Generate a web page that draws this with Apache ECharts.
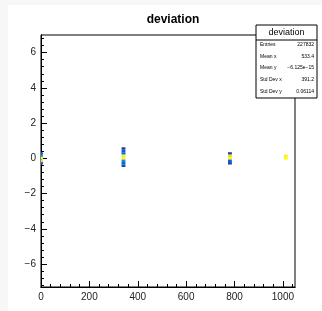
<!DOCTYPE html>
<html>
<head>
<meta charset="utf-8">
<script src="https://cdn.jsdelivr.net/npm/echarts@6/dist/echarts.min.js"></script>
<style>
  html, body { margin: 0; padding: 0; background: #f7f7f7; }
  #chart { position: absolute; left: 8px; top: 5px; width: 314px; height: 306px; background: #fff; }
</style>
</head>
<body>
<div id="chart"></div>
<script>
// histogram binning
const xBinWidth = 16
const yBinWidth = 0.14

// filled cells: low edge of x bin, low edge of y bin, entries
const cellX = [-8, -8, -8, -8, -8,
  333, 333, 333, 333, 333, 333, 333, 333,
  773, 773, 773, 773, 773,
  1004, 1004]
const cellY = [0.21, 0.07, -0.07, -0.21, -0.35,
  0.49, 0.35, 0.21, 0.07, -0.07, -0.21, -0.35, -0.49,
  0.21, 0.07, -0.07, -0.21, -0.35,
  0.07, -0.07]
const cellN = [3000, 12000, 30000, 28000, 3500,
  1200, 3500, 4000, 29000, 30000, 8000, 3500, 2000,
  1500, 27000, 30000, 4000, 1500,
  29000, 30000]

// axis ticks
const xTicks = [0, 200, 400, 600, 800, 1000]
const yTicks = [-6, -4, -2, 0, 2, 4, 6]
const xRange = [0, 1050]
const yRange = [-7.3, 7.0]

// stats box
const statNames = ['Entries', 'Mean x', 'Mean y', 'Std Dev x', 'Std Dev y']
const statValues = ['227832', '533.4', '\u22126.125e\u221215', '391.2', '0.06114']

function minorTicks(range, step) {
  const out = []
  const start = Math.ceil(range[0] / step)
  for (let i = start; i * step <= range[1] + 1e-9; i++) out.push(+(i * step).toFixed(4))
  return out
}

const bird = ['#352a87', '#0363e1', '#1485d4', '#06a7c6', '#38b99e', '#92bf73', '#d9ba56', '#fcce2e', '#f9fb0e']
const font = 'Liberation Sans, Arial, sans-serif'

const cells = cellX.map((x, i) => [x, cellY[i], cellN[i]])

function axisBase(range) {
  return {
    type: 'value', min: range[0], max: range[1],
    axisLine: { onZero: false, lineStyle: { color: '#000', width: 1 } },
    splitLine: { show: false }
  }
}

// stats box geometry (chart coords)
const bx = 248, by = 20, bw = 61, bh = 73
const statGraphics = [
  { type: 'rect', shape: { x: bx, y: by, width: bw, height: bh },
    style: { fill: '#fff', stroke: '#000', lineWidth: 1 }, z: 100 },
  { type: 'line', shape: { x1: bx, y1: by + 15, x2: bx + bw, y2: by + 15 },
    style: { stroke: '#000', lineWidth: 1 }, z: 101 },
  { type: 'text', x: bx + bw / 2, y: by + 8, z: 101,
    style: { text: 'deviation', font: '9px ' + font, fill: '#000', align: 'center', verticalAlign: 'middle' } }
]
statNames.forEach((n, i) => {
  const y = by + 19.5 + i * 11.7
  statGraphics.push({ type: 'text', x: bx + 4, y: y, z: 101,
    style: { text: n, font: '5px ' + font, fill: '#000', align: 'left', verticalAlign: 'middle' } })
  statGraphics.push({ type: 'text', x: bx + bw - 3, y: y, z: 101,
    style: { text: statValues[i], font: '5px ' + font, fill: '#000', align: 'right', verticalAlign: 'middle' } })
})

const chart = echarts.init(document.getElementById('chart'))
chart.setOption({
  animation: false,
  backgroundColor: '#fff',
  title: {
    text: 'deviation', left: 160, top: 4, textAlign: 'center',
    textStyle: { fontFamily: font, fontSize: 12, fontWeight: 'bold', color: '#000' }
  },
  grid: { left: 33, top: 30, right: 27, bottom: 24, show: true, borderColor: '#000', borderWidth: 1 },
  visualMap: { show: false, type: 'continuous', dimension: 2, min: 0, max: 30000, inRange: { color: bird } },
  xAxis: [
    Object.assign(axisBase(xRange), {
      position: 'bottom',
      axisTick: { inside: true, length: 6, customValues: xTicks, lineStyle: { color: '#000' } },
      axisLabel: { customValues: xTicks, color: '#222', fontFamily: font, fontSize: 10, margin: 5,
        formatter: v => '' + v }
    }),
    Object.assign(axisBase(xRange), {
      position: 'bottom',
      axisTick: { inside: true, length: 3, customValues: minorTicks(xRange, 40), lineStyle: { color: '#000' } },
      axisLabel: { show: false }
    })
  ],
  yAxis: [
    Object.assign(axisBase(yRange), {
      position: 'left',
      axisTick: { inside: true, length: 6, customValues: yTicks, lineStyle: { color: '#000' } },
      axisLabel: { customValues: yTicks, color: '#222', fontFamily: font, fontSize: 10, margin: 5,
        formatter: v => (v < 0 ? '\u2212' + (-v) : '' + v) }
    }),
    Object.assign(axisBase(yRange), {
      position: 'left',
      axisTick: { inside: true, length: 3, customValues: minorTicks(yRange, 0.4), lineStyle: { color: '#000' } },
      axisLabel: { show: false }
    })
  ],
  series: [{
    type: 'custom',
    data: cells,
    encode: { x: 0, y: 1 },
    clip: true,
    renderItem: function (params, api) {
      const p = api.coord([api.value(0), api.value(1) + yBinWidth])
      const s = api.size([xBinWidth, yBinWidth])
      return {
        type: 'rect',
        shape: { x: p[0], y: p[1], width: s[0], height: s[1] },
        style: { fill: api.visual('color') }
      }
    }
  }],
  graphic: statGraphics
})
</script>
</body>
</html>
